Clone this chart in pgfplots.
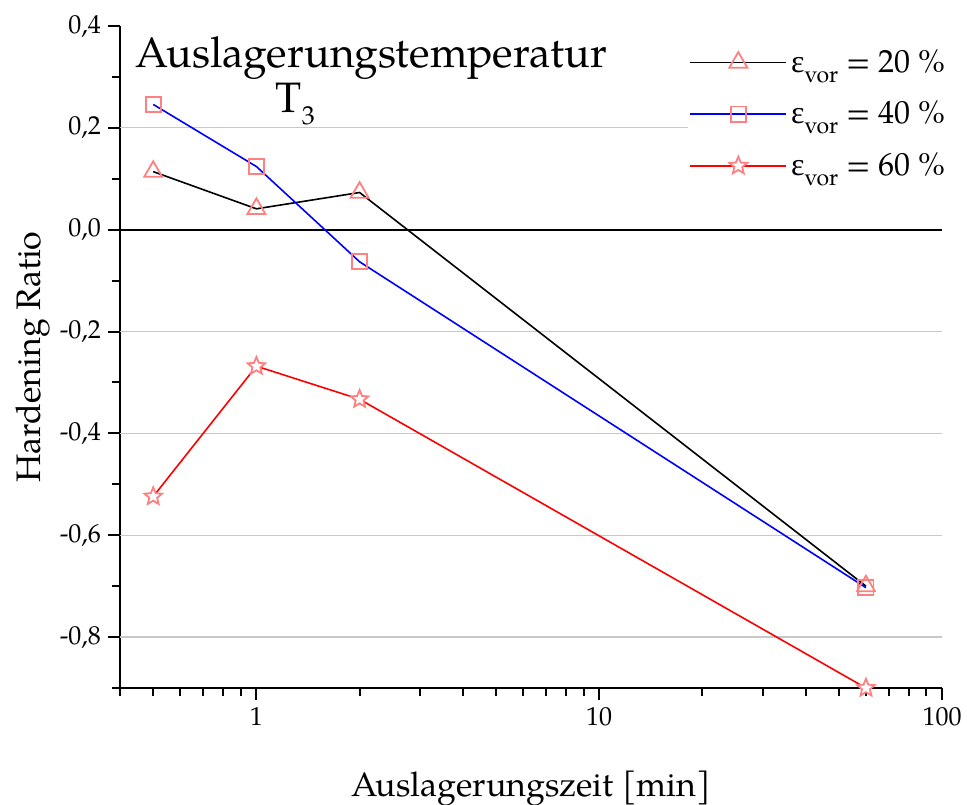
\documentclass[border=0pt]{standalone}
\usepackage{fontspec}
\setmainfont{TeX Gyre Pagella}
\newfontfamily\grk{Liberation Serif}
\usepackage{pgfplots}
\pgfplotsset{compat=1.18}
\usetikzlibrary{calc}
\definecolor{markred}{RGB}{255,128,128}
\definecolor{gridgray}{RGB}{200,200,200}
\definecolor{lineblue}{RGB}{0,0,255}
\definecolor{linered}{RGB}{255,0,0}

\newcommand\evor{{\grk ε}\raisebox{-5pt}{\fontsize{11.5}{12}\selectfont vor}}

% open five-pointed star
\pgfdeclareplotmark{ostar}{%
  \pgfpathmoveto{\pgfpointpolar{90}{\pgfplotmarksize}}%
  \pgfpathlineto{\pgfpointpolar{126}{0.45\pgfplotmarksize}}%
  \pgfpathlineto{\pgfpointpolar{162}{\pgfplotmarksize}}%
  \pgfpathlineto{\pgfpointpolar{198}{0.45\pgfplotmarksize}}%
  \pgfpathlineto{\pgfpointpolar{234}{\pgfplotmarksize}}%
  \pgfpathlineto{\pgfpointpolar{270}{0.45\pgfplotmarksize}}%
  \pgfpathlineto{\pgfpointpolar{306}{\pgfplotmarksize}}%
  \pgfpathlineto{\pgfpointpolar{342}{0.45\pgfplotmarksize}}%
  \pgfpathlineto{\pgfpointpolar{18}{\pgfplotmarksize}}%
  \pgfpathlineto{\pgfpointpolar{54}{0.45\pgfplotmarksize}}%
  \pgfpathclose
  \pgfusepathqfillstroke
}

\begin{document}
\begin{tikzpicture}
\begin{axis}[
  scale only axis,
  width=411pt, height=331pt,
  xmode=log, xmin=0.4, xmax=100,
  ymin=-0.9, ymax=0.4,
  axis lines*=left,
  axis line style={line width=1.1pt},
  every tick/.style={black, line width=1pt},
  tick align=outside,
  major tick length=6pt, minor tick length=4pt,
  xtick={1,10,100}, xticklabels={1,10,100},
  minor xtick={0.4,0.5,0.6,0.7,0.8,0.9,2,3,4,5,6,7,8,9,20,30,40,50,60,70,80,90},
  ytick={-0.8,-0.6,-0.4,-0.2,0,0.2,0.4},
  minor ytick={-0.9,-0.7,-0.5,-0.3,-0.1,0.1,0.3},
  yticklabel style={/pgf/number format/.cd, fixed, fixed zerofill, precision=1, use comma, assume math mode=true},
  tick label style={font=\fontsize{13}{15}\selectfont},
  xlabel={Auslagerungszeit [min]},
  ylabel={Hardening Ratio},
  xlabel style={font=\fontsize{17}{20}\selectfont, yshift=-16pt},
  ylabel style={font=\fontsize{17}{20}\selectfont, yshift=-2pt},
  legend style={at={(rel axis cs:1.012,0.974)}, anchor=north east, draw=none, fill=white,
    font=\fontsize{16}{19}\selectfont, row sep=9pt, inner sep=1pt},
  legend cell align=left,
  legend image code/.code={%
    \draw[#1, mark=none] (0pt,0pt) -- (48pt,0pt);
    \draw[#1, only marks] plot coordinates {(24pt,0pt)};},
]
\pgfplotsinvokeforeach{-0.8,-0.6,-0.4,-0.2,0.2}{\draw[gridgray, line width=0.6pt] (axis cs:0.4,#1) -- (axis cs:100,#1);}
\draw[black, line width=1pt] (axis cs:0.4,0) -- (axis cs:100,0);

\addplot[black, line width=0.8pt, mark=triangle, mark size=5.2pt,
  mark options={markred, fill=white, line width=0.9pt, solid}]
  coordinates {(0.5,0.114) (1,0.041) (2,0.073) (60,-0.700)};
\addlegendentry{\evor{} = 20 \%}

\addplot[lineblue, line width=0.8pt, mark=square, mark size=3.8pt,
  mark options={markred, fill=white, line width=0.9pt, solid}]
  coordinates {(0.5,0.246) (1,0.124) (2,-0.063) (60,-0.703)};
\addlegendentry{\evor{} = 40 \%}

\addplot[linered, line width=0.8pt, mark=ostar, mark size=4.6pt,
  mark options={markred, fill=white, line width=0.9pt, solid}]
  coordinates {(0.5,-0.524) (1,-0.268) (2,-0.333) (60,-0.900)};
\addlegendentry{\evor{} = 60 \%}

\node[anchor=base west, font=\fontsize{21.3}{25}\selectfont, inner sep=0pt]
  at (rel axis cs:0.018,0.937) {Auslagerungstemperatur};
\node[anchor=base west, font=\fontsize{21.3}{25}\selectfont, inner sep=0pt]
  at (rel axis cs:0.189,0.869) {T\raisebox{-6pt}{\fontsize{13}{14}\selectfont 3}};
\end{axis}
\pgfresetboundingbox
\path ($(current axis.south west)+(-60pt,-58.5pt)$) rectangle ($(current axis.north east)+(12.5pt,13pt)$);
\end{tikzpicture}
\end{document}
